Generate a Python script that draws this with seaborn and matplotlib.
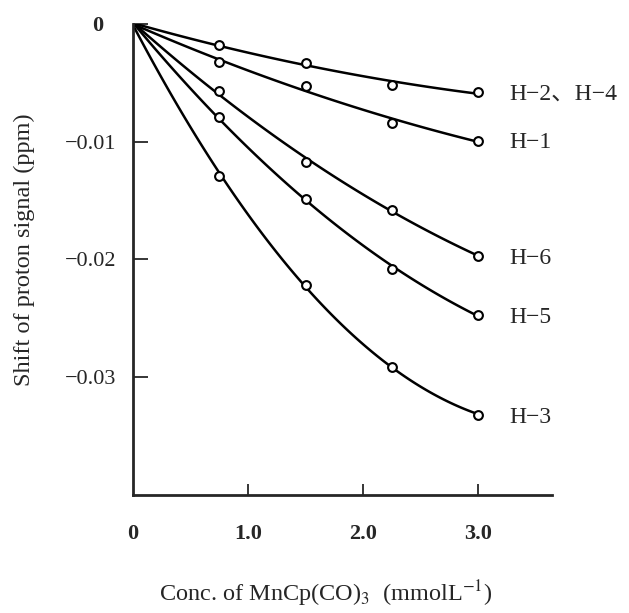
import numpy as np
import pandas as pd
import seaborn as sns
import matplotlib.pyplot as plt

# -------------------------------
# Data
# -------------------------------
conc = [0.75, 1.5, 2.25, 3.0]
shift_h24 = [-0.0018, -0.0033, -0.0052, -0.0058]
shift_h1 = [-0.0032, -0.0053, -0.0084, -0.0099]
shift_h6 = [-0.0057, -0.0117, -0.0158, -0.0197]
shift_h5 = [-0.0079, -0.0149, -0.0208, -0.0247]
shift_h3 = [-0.0129, -0.0222, -0.0291, -0.0332]
labels = ["H\u22122\u3001H\u22124", "H\u22121", "H\u22126", "H\u22125", "H\u22123"]

series = [shift_h24, shift_h1, shift_h6, shift_h5, shift_h3]

# long table, the origin is a shared point of every curve
rows = []
for lab, vals in zip(labels, series):
    rows.append({"proton": lab, "conc": 0.0, "shift": 0.0, "measured": False})
    for c, v in zip(conc, vals):
        rows.append({"proton": lab, "conc": c, "shift": v, "measured": True})
df = pd.DataFrame(rows)

# -------------------------------
# Plot
# -------------------------------
sns.set_style("ticks")
plt.rcParams["font.family"] = ["Liberation Serif", "Noto Sans CJK SC", "DejaVu Sans"]
plt.rcParams["mathtext.fontset"] = "stix"

fs = 16
fig = plt.figure(figsize=(6.29, 6.13), dpi=100)
ax = fig.add_axes([0.2115, 0.1925, 0.666, 0.7685])

for lab in labels:
    sub = df[df["proton"] == lab]
    # smooth fitted curve through the origin and the points
    sns.regplot(data=sub, x="conc", y="shift", order=2, ci=None, scatter=False,
                truncate=True, color="black", line_kws={"lw": 1.8}, ax=ax)
    pts = sub[sub["measured"]]
    sns.scatterplot(data=pts, x="conc", y="shift", marker="o", s=40,
                    facecolor="white", edgecolor="black", linewidth=1.5,
                    zorder=5, ax=ax)
    last = pts.iloc[-1]
    ax.text(3.27, last["shift"] - 0.0002, lab, fontsize=17, va="center",
            ha="left", family=["Liberation Serif", "Noto Sans CJK SC"])

ax.set_xlim(0, 3.64)
ax.set_ylim(-0.04, 0)
ax.set_xticks([0, 1, 2, 3])
ax.set_xticklabels(["0", "1.0", "2.0", "3.0"], fontsize=fs, fontweight="bold")
ax.set_yticks([0, -0.01, -0.02, -0.03])
ax.set_yticklabels(["", "\u22120.01", "\u22120.02", "\u22120.03"], fontsize=fs)
ax.text(-0.31, -0.0002, "0", fontsize=fs, fontweight="bold", ha="center", va="center")

ax.tick_params(axis="x", direction="in", length=8, width=1.3, pad=21)
ax.tick_params(axis="y", direction="in", length=11, width=1.3, pad=12)
ax.xaxis.get_major_ticks()[0].tick1line.set_visible(False)

for side in ["top", "right"]:
    ax.spines[side].set_visible(False)
for side in ["left", "bottom"]:
    ax.spines[side].set_linewidth(2)

ax.set_xlabel("Conc. of MnCp(CO)$_3$  (mmolL$^{-1}$)", fontsize=17.5)
ax.set_ylabel("Shift of proton signal (ppm)", fontsize=17.5)
ax.xaxis.set_label_coords(0.46, -0.178)
ax.yaxis.set_label_coords(-0.235, 0.52)

plt.savefig("out.png", dpi=100)
plt.close()
